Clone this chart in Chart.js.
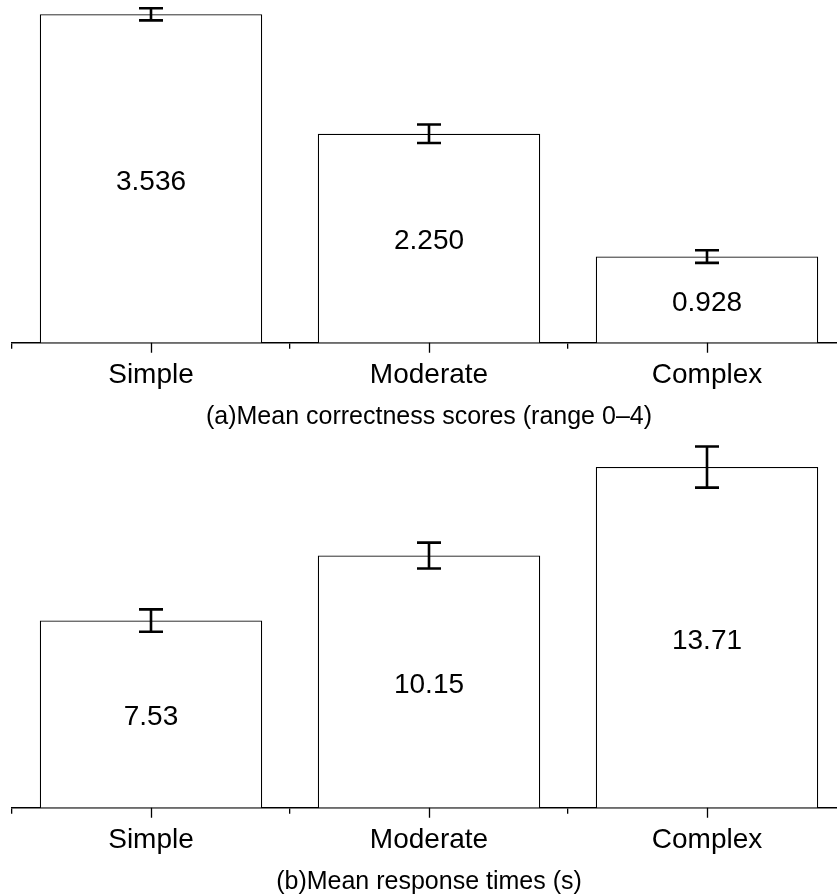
<!DOCTYPE html>
<html>
<head>
<meta charset="utf-8">
<title>Mean correctness and response times by task complexity</title>
<script src="https://cdn.jsdelivr.net/npm/chart.js@4.4.1/dist/chart.umd.min.js"></script>
<style>
  html, body { margin: 0; padding: 0; background: #fff; overflow: hidden; width: 837px; height: 896px; }
  .panel { position: absolute; left: 0; }
  canvas { display: block; }
</style>
</head>
<body>
<div class="panel" style="top:0"><canvas id="correctnessChart" width="860" height="432"></canvas></div>
<div class="panel" style="top:435px"><canvas id="responseChart" width="860" height="462"></canvas></div>
<script>
// Task complexity levels
const categories = ['Simple', 'Moderate', 'Complex'];

// (a) mean correctness scores (range 0–4) with error half-widths
const correctness = [3.536, 2.250, 0.928];
const correctnessErr = [0.065, 0.10, 0.068];

// (b) mean response times in seconds with error half-widths
const responseTimes = [7.53, 10.15, 13.71];
const responseErr = [0.45, 0.52, 0.83];

const FONT = "'Liberation Sans', Arial, Helvetica, sans-serif";
Chart.defaults.font.family = FONT;
Chart.defaults.color = '#000';

// Short ticks sit at the category boundaries (grid); longer ones at category centres.
const centreTicks = {
  id: 'centreTicks',
  afterDraw(chart) {
    const x = chart.scales.x;
    const ctx = chart.ctx;
    ctx.save();
    ctx.strokeStyle = '#000';
    ctx.lineWidth = 1.3;
    ctx.beginPath();
    x.ticks.forEach((t, i) => {
      const px = Math.round(x.getPixelForValue(i)) + 0.5;
      ctx.moveTo(px, x.top);
      ctx.lineTo(px, x.top + 10);
    });
    ctx.stroke();
    ctx.restore();
  }
};

// Error bars and centred value labels for each bar
const barExtras = {
  id: 'barExtras',
  afterDatasetsDraw(chart, args, opts) {
    const ctx = chart.ctx;
    const y = chart.scales.y;
    const meta = chart.getDatasetMeta(0);
    const values = chart.data.datasets[0].data;
    ctx.save();
    // error bars
    ctx.strokeStyle = '#000';
    ctx.lineWidth = 2.6;
    ctx.lineCap = 'butt';
    meta.data.forEach((bar, i) => {
      const v = values[i], e = opts.errors[i];
      const yTop = y.getPixelForValue(v + e);
      const yBot = y.getPixelForValue(v - e);
      const cx = bar.x;
      ctx.beginPath();
      ctx.moveTo(cx, yTop); ctx.lineTo(cx, yBot);
      ctx.moveTo(cx - 12, yTop); ctx.lineTo(cx + 12, yTop);
      ctx.moveTo(cx - 12, yBot); ctx.lineTo(cx + 12, yBot);
      ctx.stroke();
    });
    // value labels in the middle of each bar
    ctx.fillStyle = '#000';
    ctx.font = '28px ' + FONT;
    ctx.textAlign = 'center';
    ctx.textBaseline = 'middle';
    meta.data.forEach((bar, i) => {
      ctx.fillText(values[i].toFixed(opts.decimals), bar.x, (bar.y + bar.base) / 2 + 3.5);
    });
    ctx.restore();
  }
};

function makePanel(canvasId, values, errors, decimals, yMax, caption) {
  return new Chart(document.getElementById(canvasId), {
    type: 'bar',
    data: {
      labels: categories,
      datasets: [{
        data: values,
        backgroundColor: '#fff',
        borderColor: '#000',
        borderWidth: 1.2,
        borderSkipped: 'bottom',
        categoryPercentage: 0.8,
        barPercentage: 1.0
      }]
    },
    options: {
      responsive: false,
      animation: false,
      events: [],
      layout: { padding: { left: 12, right: 14, top: 0, bottom: 5 } },
      plugins: {
        legend: { display: false },
        tooltip: { enabled: false },
        barExtras: { errors: errors, decimals: decimals }
      },
      scales: {
        x: {
          z: 1,
          offset: true,
          border: { display: true, color: '#000', width: 1.5 },
          grid: {
            display: true,
            offset: true,
            drawOnChartArea: false,
            drawTicks: true,
            tickLength: 6,
            color: '#000',
            lineWidth: 1.3
          },
          ticks: {
            font: { size: 28 },
            color: '#000',
            padding: 9.5,
            maxRotation: 0
          },
          title: {
            display: true,
            text: caption,
            font: { size: 25, lineHeight: 0.8 },
            color: '#000',
            padding: { top: 5.7, bottom: 0 }
          }
        },
        y: {
          display: false,
          min: 0,
          max: yMax
        }
      }
    },
    plugins: [centreTicks, barExtras]
  });
}

makePanel('correctnessChart', correctness, correctnessErr, 3, 3.69,
  '(a)Mean correctness scores (range 0\u20134)');
makePanel('responseChart', responseTimes, responseErr, 2, 15,
  '(b)Mean response times (s)');
</script>
</body>
</html>
